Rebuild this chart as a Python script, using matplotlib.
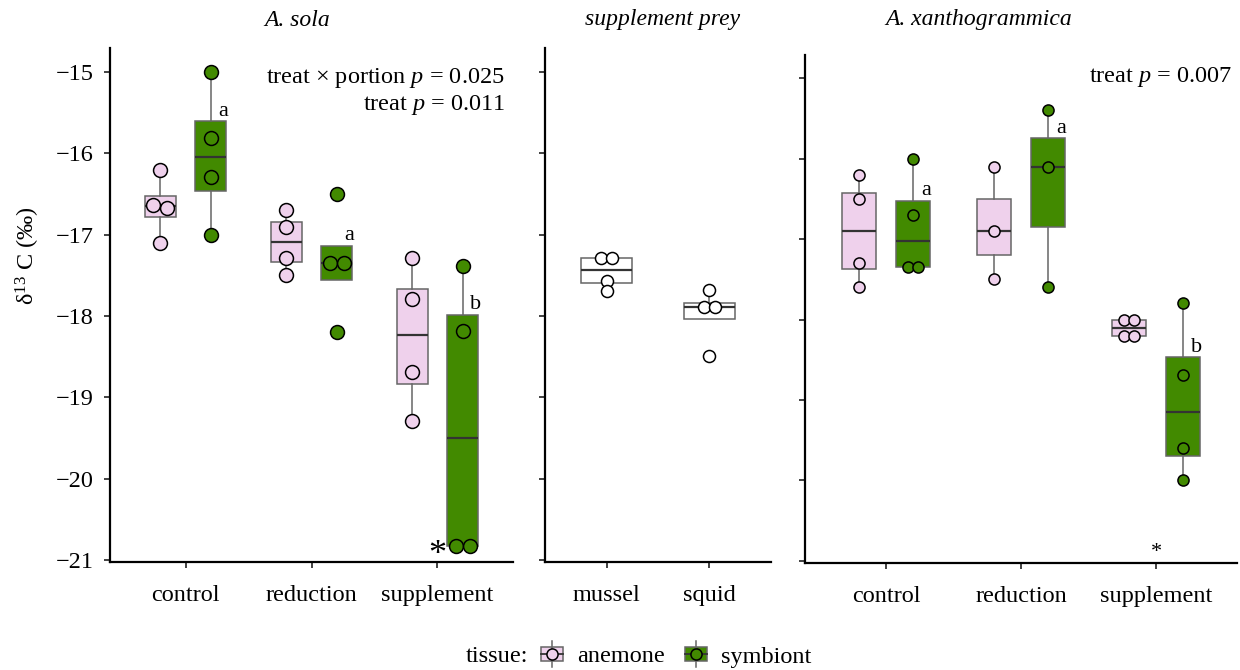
import matplotlib
matplotlib.use("Agg")
import matplotlib.pyplot as plt
import numpy as np
from matplotlib.legend_handler import HandlerBase
from matplotlib.patches import Rectangle
from matplotlib.lines import Line2D

plt.rcParams['font.family'] = ['Liberation Serif', 'DejaVu Serif']
plt.rcParams['mathtext.fontset'] = 'custom'
plt.rcParams['mathtext.rm'] = 'Liberation Serif'
plt.rcParams['mathtext.it'] = 'Liberation Serif:italic'
plt.rcParams['mathtext.bf'] = 'Liberation Serif:bold'

# data (delta 13C, per mil)
treatments = ['control', 'reduction', 'supplement']
sola_anemone = [[-16.2, -16.63, -16.67, -17.1],
                [-16.7, -16.9, -17.29, -17.49],
                [-17.29, -17.79, -18.69, -19.29]]
sola_symbiont = [[-15.0, -15.81, -16.29, -17.0],
                 [-16.5, -17.35, -17.35, -18.2],
                 [-17.39, -18.18, -20.83, -20.83]]
sola_letters = ['a', 'a', 'b']

prey = ['mussel', 'squid']
prey_vals = [[-17.29, -17.29, -17.57, -17.69],
             [-17.68, -17.89, -17.89, -18.49]]

xan_anemone = [[-16.2, -16.5, -17.3, -17.6],
               [-16.1, -16.9, -17.5],
               [-18.0, -18.0, -18.2, -18.2]]
xan_symbiont = [[-16.0, -16.7, -17.35, -17.35],
                [-15.4, -16.1, -17.6],
                [-17.8, -18.69, -19.6, -19.99]]
xan_letters = ['a', 'a', 'b']

PINK = '#efd1ec'
GREEN = '#428a00'
EDGE = '#666666'
MED = '#333333'
FS = 17.5

W, H = 1240, 670
fig = plt.figure(figsize=(W / 100, H / 100), dpi=100)


def px_axes(left, top, right, bottom):
    return fig.add_axes([left / W, 1 - bottom / H, (right - left) / W, (bottom - top) / H])


def spread(vals, step, tol=0.05):
    vals = np.asarray(vals)
    offs = np.zeros(len(vals))
    for i in range(len(vals)):
        same = list(np.where(np.abs(vals - vals[i]) < tol)[0])
        offs[i] = (same.index(i) - (len(same) - 1) / 2) * step
    return offs


def boxes(ax, groups, pos, color, width, msize, step):
    ax.boxplot(groups, positions=pos, widths=width, patch_artist=True,
               showfliers=False, showcaps=False, manage_ticks=False,
               boxprops=dict(facecolor=color, edgecolor=EDGE, linewidth=1.1),
               whiskerprops=dict(color=EDGE, linewidth=1.1),
               medianprops=dict(color=MED, linewidth=1.6))
    for p, g in zip(pos, groups):
        ax.scatter(p + spread(g, step), g, s=msize, facecolor=color,
                   edgecolor='black', linewidth=1.1, zorder=5)


def style(ax, cats, labels_left):
    for s in ['top', 'right']:
        ax.spines[s].set_visible(False)
    for s in ['left', 'bottom']:
        ax.spines[s].set_linewidth(1.6)
    ax.set_xticks(range(len(cats)))
    ax.set_xticklabels(cats)
    ax.set_xlim(-0.6, len(cats) - 0.4)
    ax.set_yticks(range(-21, -14))
    ax.tick_params(axis='both', length=4.5, width=1.3, color='#333333', labelsize=FS)
    ax.tick_params(axis='x', pad=12)
    ax.tick_params(axis='y', pad=7, labelleft=labels_left)


def letters(ax, pos, groups, labs):
    for p, g, l in zip(pos, groups, labs):
        ax.text(p + 0.1, np.percentile(g, 75) + 0.07, l, fontsize=16,
                ha='center', va='baseline')


# panel 1: A. sola
ax1 = px_axes(110, 48, 513, 562)
x = np.arange(len(treatments))
boxes(ax1, sola_anemone, x - 0.2, PINK, 0.25, 100, 0.11)
boxes(ax1, sola_symbiont, x + 0.2, GREEN, 0.25, 100, 0.11)
letters(ax1, x + 0.2, sola_symbiont, sola_letters)
style(ax1, treatments, True)
ax1.set_ylim(-21.025, -14.705)
ax1.text(0.98, 0.942, r'treat $\times$ portion $p$ = 0.025', transform=ax1.transAxes,
         ha='right', va='center', fontsize=FS)
ax1.text(0.98, 0.889, r'treat $p$ = 0.011', transform=ax1.transAxes,
         ha='right', va='center', fontsize=FS)
ax1.text(2.0, -20.95, '*', fontsize=26, ha='center', va='center')
ax1.set_ylabel(r'δ$^{13}$ C ($\mathit{‰}$)', fontsize=FS)
ax1.yaxis.set_label_coords(-0.168, 0.597)

# panel 2: supplement prey
ax2 = px_axes(545, 48, 771, 562)
boxes(ax2, prey_vals, np.arange(len(prey)), 'white', 0.5, 75, 0.107)
style(ax2, prey, False)
ax2.set_ylim(-21.025, -14.705)

# panel 3: A. xanthogrammica
ax3 = px_axes(805, 55, 1237, 563)
boxes(ax3, xan_anemone, x - 0.2, PINK, 0.25, 64, 0.074)
boxes(ax3, xan_symbiont, x + 0.2, GREEN, 0.25, 64, 0.074)
letters(ax3, x + 0.2, xan_symbiont, xan_letters)
style(ax3, treatments, False)
ax3.set_ylim(-21.025, -14.714)
ax3.text(0.988, 0.957, r'treat $p$ = 0.007', transform=ax3.transAxes,
         ha='right', va='center', fontsize=FS)
ax3.text(2.0, -20.9, '*', fontsize=16, ha='center', va='center')

# panel titles
fig.text(297 / W, 1 - 20 / H, 'A. sola', style='italic', fontsize=17, ha='center', va='center')
fig.text(663 / W, 1 - 20 / H, 'supplement prey', style='italic', fontsize=17, ha='center', va='center')
fig.text(979 / W, 1 - 20 / H, 'A. xanthogrammica', style='italic', fontsize=17, ha='center', va='center')


class BoxKey(HandlerBase):
    def create_artists(self, legend, orig_handle, xdescent, ydescent,
                       width, height, fontsize, trans):
        fc = orig_handle.get_facecolor()
        cx = -xdescent + width / 2
        cy = -ydescent + height / 2
        rect = Rectangle((-xdescent, -ydescent), width, height, facecolor=fc,
                         edgecolor=EDGE, linewidth=1.1, transform=trans)
        vline = Line2D([cx, cx], [-ydescent - 4, -ydescent + height + 4],
                       color=EDGE, linewidth=1.1, transform=trans)
        hline = Line2D([-xdescent, -xdescent + width], [cy, cy],
                       color=MED, linewidth=1.3, transform=trans)
        dot = Line2D([cx], [cy], marker='o', markersize=8, markerfacecolor=fc,
                     markeredgecolor='black', markeredgewidth=1.1, transform=trans)
        return [rect, vline, hline, dot]


handles = [Rectangle((0, 0), 1, 1, facecolor=PINK), Rectangle((0, 0), 1, 1, facecolor=GREEN)]
fig.text(528 / W, 1 - 657 / H, 'tissue:', fontsize=FS, ha='right', va='center')
fig.legend(handles, ['anemone', 'symbiont'], handler_map={Rectangle: BoxKey()},
           loc='center left', bbox_to_anchor=(541 / W, 1 - 657 / H), ncol=2,
           frameon=False, fontsize=FS, handlelength=0.9, handleheight=0.55,
           handletextpad=0.6, columnspacing=0.8, borderpad=0, borderaxespad=0)

fig.savefig('out.png', dpi=100)
